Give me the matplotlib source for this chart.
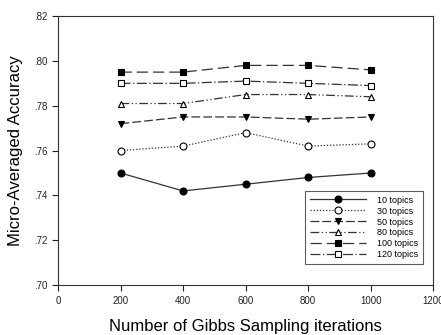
import matplotlib
matplotlib.use("Agg")
import matplotlib.pyplot as plt

iterations = [200, 400, 600, 800, 1000]
labels = ["10 topics", "30 topics", "50 topics", "80 topics", "100 topics", "120 topics"]
acc_10 = [0.750, 0.742, 0.745, 0.748, 0.750]
acc_30 = [0.760, 0.762, 0.768, 0.762, 0.763]
acc_50 = [0.772, 0.775, 0.775, 0.774, 0.775]
acc_80 = [0.781, 0.781, 0.785, 0.785, 0.784]
acc_100 = [0.795, 0.795, 0.798, 0.798, 0.796]
acc_120 = [0.790, 0.790, 0.791, 0.790, 0.789]
x_ticks = [0, 200, 400, 600, 800, 1000, 1200]
y_ticks = [0.70, 0.72, 0.74, 0.76, 0.78, 0.80, 0.82]
y_tick_labels = [".70", ".72", ".74", ".76", ".78", ".80", ".82"]

plt.rcParams['font.family'] = ['Liberation Sans', 'DejaVu Sans']

fig = plt.figure(figsize=(4.41, 3.35), dpi=100)
ax = fig.add_axes([0.1315, 0.149, 0.851, 0.803])

series = [acc_10, acc_30, acc_50, acc_80, acc_100, acc_120]
styles = [
    dict(linestyle='-', marker='o', mfc='black'),
    dict(linestyle=(0, (1, 1.5)), marker='o', mfc='white'),
    dict(linestyle=(0, (7, 2.5)), marker='v', mfc='black'),
    dict(linestyle=(0, (7, 2, 1, 2, 1, 2)), marker='^', mfc='white'),
    dict(linestyle=(0, (9, 4)), marker='s', mfc='black'),
    dict(linestyle=(0, (8, 2, 1, 2)), marker='s', mfc='white'),
]
for vals, lab, st in zip(series, labels, styles):
    ax.plot(iterations, vals, color='#333333', lw=0.9, marker=st['marker'],
            mfc=st['mfc'], mec='black', mew=0.8, ms=5,
            linestyle=st['linestyle'], label=lab)

ax.set_xlim(0, 1200)
ax.set_ylim(0.70, 0.82)
ax.set_xticks(x_ticks)
ax.set_yticks(y_ticks)
ax.set_yticklabels(y_tick_labels)
ax.tick_params(direction='out', length=4, width=0.8, labelsize=7, colors='#222222')
for s in ax.spines.values():
    s.set_linewidth(0.8)
    s.set_color('#333333')

ax.set_xlabel("Number of Gibbs Sampling iterations", fontsize=12, labelpad=10)
ax.set_ylabel("Micro-Averaged Accuracy", fontsize=12, labelpad=8)

leg = ax.legend(loc='lower right', bbox_to_anchor=(0.985, 0.06), fontsize=6.5,
                frameon=True, fancybox=False, edgecolor='#333333',
                handlelength=6.2, borderpad=0.55, labelspacing=0.22,
                handletextpad=1.2)
leg.get_frame().set_linewidth(0.8)

fig.savefig("out.png", dpi=100)
